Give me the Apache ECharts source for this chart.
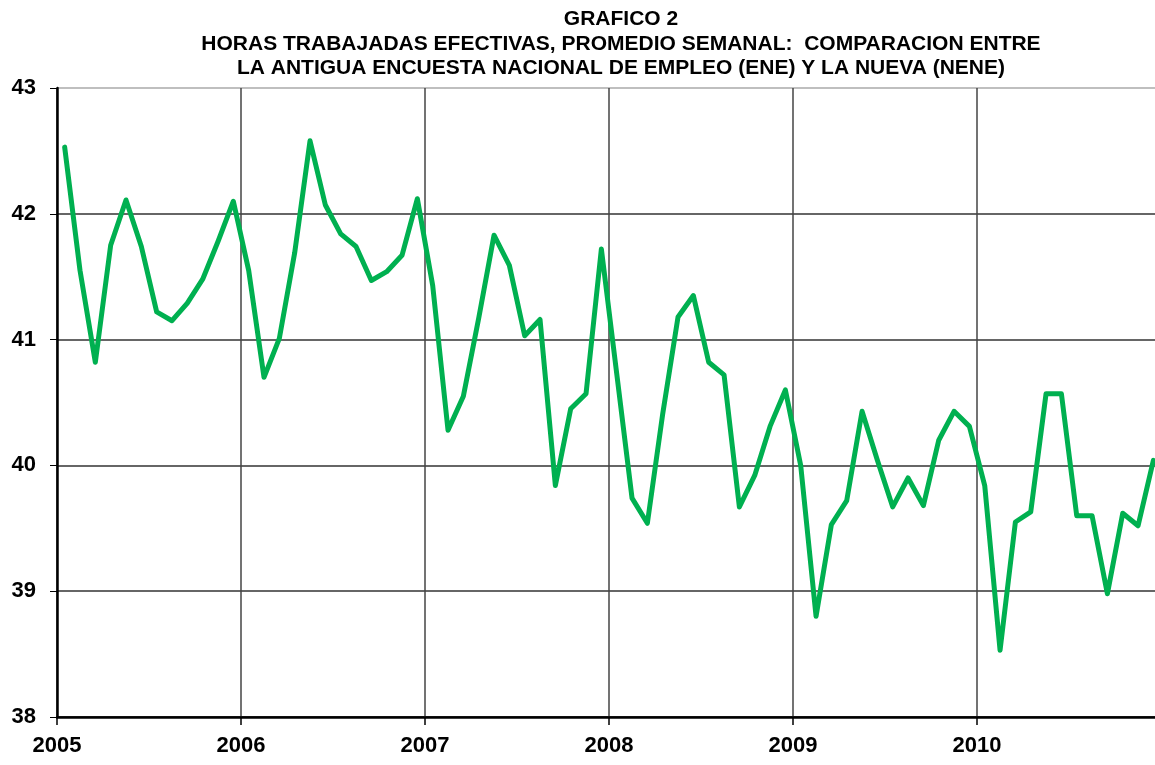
<!DOCTYPE html>
<html>
<head>
<meta charset="utf-8">
<script src="https://cdn.jsdelivr.net/npm/echarts@6/dist/echarts.min.js"></script>
<style>html,body{margin:0;padding:0;background:#fff}#c{width:1155px;height:765px}</style>
</head>
<body>
<div id="c"></div>
<script>
const startYear = 2005;
const axisMaxYear = 2010.967;
const yearTicks = [2005, 2006, 2007, 2008, 2009, 2010];
const values2005 = [42.53, 41.55, 40.82, 41.75, 42.11, 41.74, 41.22, 41.15, 41.29, 41.48, 41.78, 42.10];
const values2006 = [41.55, 40.70, 41.01, 41.69, 42.58, 42.07, 41.84, 41.74, 41.47, 41.54, 41.67, 42.12];
const values2007 = [41.43, 40.28, 40.55, 41.17, 41.83, 41.59, 41.03, 41.16, 39.84, 40.45, 40.57, 41.72];
const values2008 = [40.73, 39.74, 39.54, 40.41, 41.18, 41.35, 40.82, 40.72, 39.67, 39.92, 40.31, 40.60];
const values2009 = [40.00, 38.80, 39.53, 39.72, 40.43, 40.04, 39.67, 39.90, 39.68, 40.20, 40.43, 40.31];
const values2010 = [39.84, 38.53, 39.55, 39.63, 40.57, 40.57, 39.60, 39.60, 38.98, 39.62, 39.52, 40.04];
const titleLines = [
  'GRAFICO 2',
  'HORAS TRABAJADAS EFECTIVAS, PROMEDIO SEMANAL:  COMPARACION ENTRE',
  'LA ANTIGUA ENCUESTA NACIONAL DE EMPLEO (ENE) Y LA NUEVA (NENE)'
];

const allValues = [].concat(values2005, values2006, values2007, values2008, values2009, values2010);
const seriesData = allValues.map((v, i) => [startYear + (i + 0.5) / 12, v]);

const font = '"Liberation Sans", Arial, sans-serif';
const chart = echarts.init(document.getElementById('c'), null, {renderer: 'canvas'});
chart.setOption({
  animation: false,
  backgroundColor: '#ffffff',
  title: {
    text: titleLines.join('\n'),
    left: 616,
    top: 2,
    textAlign: 'center',
    textStyle: {fontFamily: font, fontSize: 21, fontWeight: 'bold', color: '#000', lineHeight: 24.5}
  },
  grid: {left: 57, top: 88, right: 0, bottom: 48, containLabel: false},
  xAxis: {
    type: 'value',
    min: startYear, max: axisMaxYear, interval: 1,
    axisLine: {show: true, onZero: false, lineStyle: {color: '#000', width: 2.5}},
    axisTick: {show: true, length: 8, lineStyle: {color: ['#555'], width: 1.5}},
    axisLabel: {
      showMaxLabel: false,
      margin: 18,
      fontFamily: font, fontSize: 22, fontWeight: 'bold', color: '#000',
      formatter: v => yearTicks.indexOf(Math.round(v * 1000) / 1000) >= 0 ? String(Math.round(v)) : ''
    },
    splitLine: {show: true, lineStyle: {color: ['#444', '#444', '#444', '#444', '#444', '#444', 'rgba(0,0,0,0)'], width: 1.5}}
  },
  yAxis: {
    type: 'value',
    min: 38, max: 43, interval: 1,
    axisLine: {show: true, lineStyle: {color: '#000', width: 2.5}},
    axisTick: {show: true, length: 7, lineStyle: {color: '#000', width: 1}},
    axisLabel: {margin: 21, fontFamily: font, fontSize: 22, fontWeight: 'bold', color: '#000'},
    splitLine: {show: true, lineStyle: {color: ['#000', '#333', '#333', '#333', '#333', '#aaa'], width: 1.5}}
  },
  series: [{
    type: 'line',
    data: seriesData,
    symbol: 'none',
    smooth: false,
    lineStyle: {color: '#00B050', width: 5, join: 'round', cap: 'round'},
    itemStyle: {color: '#00B050'}
  }]
});
</script>
</body>
</html>
